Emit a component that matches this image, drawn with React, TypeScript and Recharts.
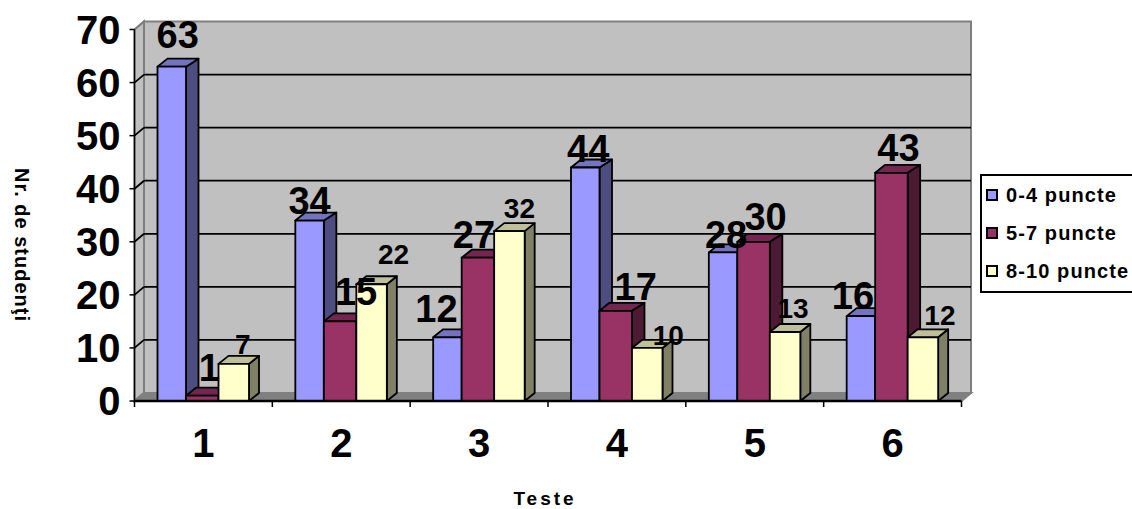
import { BarChart, Bar, XAxis, YAxis, CartesianGrid, Legend, LabelList } from "recharts";

const categories = ["1", "2", "3", "4", "5", "6"];
const lowScores = [63, 34, 12, 44, 28, 16];
const midScores = [1, 15, 27, 17, 30, 43];
const highScores = [7, 22, 32, 10, 13, 12];
const yTicks = [0, 10, 20, 30, 40, 50, 60, 70];

const rows = categories.map((name, i) => ({
  name,
  low: lowScores[i],
  mid: midScores[i],
  high: highScores[i],
}));

const LEFT = 134.5;
const RIGHT = 961.5;
const TOP = 29.5;
const BOTTOM = 401;
const DEPTH_X = 10;
const DEPTH_Y = 8;
const LEGEND_WIDTH = 160;
const FONT = "'Liberation Sans', Arial, sans-serif";

// hand-placed label nudges, [dx from bar centre, dy from bar top to baseline]
const lowNudges = [[5, -19], [-1, -7], [-12, -15], [2, -5], [2, -4], [-9, -7]];
const midNudges = [[6, -15], [15, -16], [-5, -10], [19, -11], [11, -12], [6, -12]];
const highNudges = [[9, -10], [22, -20], [10, -13], [21, -3], [8, -14], [17, -12]];

// shaded faces per series; trim moves the shared edge of the first two boxes
const faces: Record<string, { side: string; top: string; sideDepth: number; trimL: number; trimR: number }> = {
  "#9999FF": { side: "#4D4D80", top: "#7373BF", sideDepth: 12.5, trimL: 0, trimR: 2 },
  "#993366": { side: "#4D1A33", top: "#732650", sideDepth: 12.5, trimL: -2, trimR: 0 },
  "#FFFFCC": { side: "#808066", top: "#BFBF99", sideDepth: 10, trimL: 0, trimR: 0 },
};

function Box3D(props: any) {
  const { y, height, fill } = props;
  const shade = faces[fill];
  const x = props.x + shade.trimL;
  const r = props.x + props.width - shade.trimR;
  const b = y + height;
  const backR = r + shade.sideDepth;
  return (
    <g stroke="#000" strokeWidth={1.8} strokeLinejoin="round">
      <polygon fill={shade.side} points={`${r},${y} ${backR},${y - DEPTH_Y} ${backR},${b - DEPTH_Y} ${r},${b}`} />
      <polygon fill={shade.top} points={`${x},${y} ${x + DEPTH_X},${y - DEPTH_Y} ${backR},${y - DEPTH_Y} ${r},${y}`} />
      <rect x={x} y={y} width={r - x} height={height} fill={fill} />
    </g>
  );
}

function valueLabel(nudges: number[][], size: number) {
  return (props: any) => {
    const { x, y, width, value, index } = props;
    const [dx, dy] = nudges[index];
    return (
      <text x={x + width / 2 + dx} y={y + dy} textAnchor="middle" fontSize={size} fontWeight="bold" fontFamily={FONT} fill="#000">
        {value}
      </text>
    );
  };
}

// back wall, side wall and floor of the 3D frame
function Frame() {
  const backL = LEFT + 9.5;
  const backR = RIGHT + 9.5;
  return (
    <g stroke="#808080" strokeWidth={2}>
      <polygon fill="#C0C0C0" points={`${backL},${TOP - DEPTH_Y} ${backR},${TOP - DEPTH_Y} ${backR},${BOTTOM - DEPTH_Y} ${backL},${BOTTOM - DEPTH_Y}`} />
      <polygon fill="#C0C0C0" points={`${LEFT},${TOP} ${backL},${TOP - DEPTH_Y} ${backL},${BOTTOM - DEPTH_Y} ${LEFT},${BOTTOM}`} />
      <polygon fill="#808080" points={`${LEFT},${BOTTOM} ${backL},${BOTTOM - DEPTH_Y} ${backR},${BOTTOM - DEPTH_Y} ${RIGHT},${BOTTOM}`} />
    </g>
  );
}

// grid lines run along the side wall, then across the back wall
function GridLine(props: any) {
  const { x1, x2, y1, index } = props;
  const edge = index === 0 || index === yTicks.length - 1;
  return (
    <g>
      {index === 0 && <Frame />}
      <g stroke={edge ? "#808080" : "#000"} strokeWidth={1.8}>
        <line x1={x1} y1={y1} x2={x1 + 9.5} y2={y1 - DEPTH_Y} />
        {!edge && <line x1={x1 + 9.5} y1={y1 - DEPTH_Y} x2={x2 + 9.5} y2={y1 - DEPTH_Y} />}
      </g>
    </g>
  );
}

function CategoryTick(props: any) {
  const { x, y, payload, index } = props;
  const step = (RIGHT - LEFT) / categories.length;
  return (
    <g>
      <line x1={x - step / 2} y1={BOTTOM} x2={x - step / 2} y2={BOTTOM + 6} stroke="#000" strokeWidth={1.5} />
      {index === categories.length - 1 && (
        <line x1={x + step / 2} y1={BOTTOM} x2={x + step / 2} y2={BOTTOM + 6} stroke="#000" strokeWidth={1.5} />
      )}
      <text x={x} y={y + 48} textAnchor="middle" fontSize={40} fontWeight="bold" fontFamily={FONT} fill="#000">
        {payload.value}
      </text>
    </g>
  );
}

function LegendBox({ payload }: any) {
  return (
    <div style={{ border: "2px solid #000", background: "#fff", width: LEGEND_WIDTH, height: 119, boxSizing: "border-box" }}>
      {payload.map((item: any) => (
        <div key={item.value} style={{ display: "flex", alignItems: "center", height: 38, paddingLeft: 4, whiteSpace: "nowrap" }}>
          <span style={{ width: 12, height: 12, boxSizing: "border-box", background: item.color, border: "2px solid #000", marginRight: 8 }} />
          <span style={{ fontFamily: FONT, fontWeight: "bold", fontSize: 20, letterSpacing: 1.1, color: "#000" }}>{item.value}</span>
        </div>
      ))}
    </div>
  );
}

const titleStyle = { fontFamily: FONT, fontWeight: "bold", fill: "#000" };

function XTitle() {
  return (
    <text x={545} y={505} textAnchor="middle" fontSize={19} letterSpacing={3} style={titleStyle}>
      Teste
    </text>
  );
}

function YTitle() {
  return (
    <text transform="translate(14.5,245) rotate(90)" textAnchor="middle" fontSize={20} letterSpacing={1} style={titleStyle}>
      Nr. de studenţi
    </text>
  );
}

export default function App() {
  return (
    <div style={{ position: "absolute", left: 0, top: 0, width: 1132, height: 509, overflow: "hidden", background: "#fff" }}>
      <BarChart
        width={1132}
        height={509}
        data={rows}
        margin={{ top: TOP, right: 1132 - RIGHT - LEGEND_WIDTH, left: LEFT - 100, bottom: 58 }}
        barSize={30.5}
        barGap={0}
      >
        <CartesianGrid vertical={false} horizontal={GridLine as any} />
        <XAxis
          dataKey="name"
          height={50}
          axisLine={{ stroke: "#000", strokeWidth: 2.5 }}
          tickLine={false}
          tick={CategoryTick as any}
          label={<XTitle />}
        />
        <YAxis
          width={100}
          domain={[0, 70]}
          ticks={yTicks}
          interval={0}
          axisLine={{ stroke: "#000", strokeWidth: 1.5 }}
          tickLine={{ stroke: "#000", strokeWidth: 1.5 }}
          tickSize={5}
          tickMargin={9}
          tick={{ fontFamily: FONT, fontWeight: "bold", fontSize: 40, fill: "#000" }}
          label={<YTitle />}
        />
        <Legend
          layout="vertical"
          align="right"
          verticalAlign="top"
          content={LegendBox as any}
          wrapperStyle={{ left: 980, top: 174, width: LEGEND_WIDTH }}
        />
        <Bar dataKey="low" name="0-4 puncte" fill="#9999FF" shape={Box3D} isAnimationActive={false}>
          <LabelList dataKey="low" content={valueLabel(lowNudges, 38) as any} />
        </Bar>
        <Bar dataKey="mid" name="5-7 puncte" fill="#993366" shape={Box3D} isAnimationActive={false}>
          <LabelList dataKey="mid" content={valueLabel(midNudges, 38) as any} />
        </Bar>
        <Bar dataKey="high" name="8-10 puncte" fill="#FFFFCC" shape={Box3D} isAnimationActive={false}>
          <LabelList dataKey="high" content={valueLabel(highNudges, 28) as any} />
        </Bar>
      </BarChart>
    </div>
  );
}
